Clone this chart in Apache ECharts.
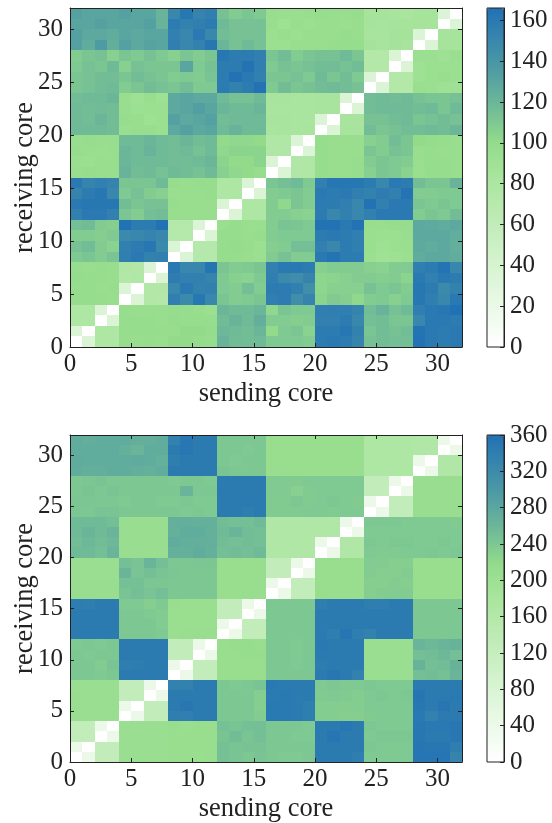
<!DOCTYPE html>
<html><head><meta charset="utf-8">
<style>html,body{margin:0;padding:0;background:#fff}#c{width:552px;height:823px}</style>
<script src="https://cdn.jsdelivr.net/npm/echarts@6/dist/echarts.min.js"></script>
</head><body><div id="c"></div>
<script>
const topScaleMax=166, bottomScaleMax=360;
const xTitle='sending core', yTitle='receiving core';
const colormap=['#ffffff','#eefaeb','#ddf5d8','#ccf0c5','#bbeab1','#a9e59e','#94dc8b','#72bd96','#54a0a2','#3a88ac','#2171b5'];
// rows: receiving core 0..31, columns: sending core 0..31
const topValues=[
[0,35,78,78,97,96,97,96,100,100,99,98,122,117,116,118,110,110,110,108,158,160,158,152,114,116,115,115,165,160,158,160],
[35,0,78,78,97,98,98,97,98,100,100,99,119,118,116,120,100,110,112,105,158,158,162,154,112,116,114,116,164,160,158,160],
[78,78,0,35,98,98,97,96,99,97,98,97,117,122,118,124,108,108,107,108,155,155,158,150,115,116,112,112,150,160,160,158],
[78,78,35,0,97,96,96,96,98,98,96,94,120,118,118,120,102,112,110,110,156,156,156,152,116,122,114,118,156,160,162,166],
[98,97,98,96,0,35,75,73,156,148,162,150,112,108,110,112,156,158,145,152,104,109,107,102,108,110,106,110,162,156,150,160],
[98,97,96,97,35,0,75,75,150,160,154,155,110,108,115,108,158,158,155,145,103,106,106,106,114,110,112,108,162,158,148,154],
[99,98,98,96,75,76,0,35,157,155,155,152,110,106,105,110,156,148,146,152,103,104,106,108,108,107,108,104,160,155,160,158],
[97,96,98,96,76,75,35,0,160,150,150,163,112,108,110,112,155,160,160,158,106,108,108,108,106,105,108,109,156,158,164,150],
[110,112,108,113,156,160,154,155,0,35,72,72,97,98,96,94,109,114,108,108,160,164,158,158,94,90,92,94,126,128,128,126],
[114,116,108,105,155,158,162,148,35,0,72,72,98,99,97,94,107,108,115,115,155,150,158,156,95,92,94,95,127,126,128,124],
[108,108,107,110,148,150,152,150,72,72,0,35,97,98,96,98,108,110,110,110,158,160,158,156,95,94,94,96,128,128,128,125],
[115,117,108,107,166,158,158,165,72,72,35,0,95,97,96,95,108,113,112,110,165,165,160,165,96,96,97,97,128,127,126,128],
[155,160,160,155,112,108,115,116,96,96,96,96,0,35,78,78,108,108,106,105,158,150,155,150,155,160,160,160,108,112,110,116],
[160,162,162,162,116,112,114,114,97,96,96,96,35,0,78,78,108,102,112,108,158,158,156,150,165,155,160,160,112,110,112,110],
[152,158,162,150,110,114,108,106,95,96,96,97,78,78,0,35,108,110,112,108,160,158,160,156,154,157,155,164,108,108,110,110],
[160,152,155,152,112,112,112,118,98,96,97,97,78,78,35,0,112,115,118,110,155,162,162,162,158,150,160,158,116,112,112,122],
[96,97,96,96,122,116,118,114,118,116,114,118,106,102,100,98,0,35,76,76,98,96,96,97,106,112,110,105,95,97,97,96],
[95,94,96,96,120,118,118,118,116,116,118,120,104,100,100,104,35,0,76,76,97,96,96,98,108,112,110,108,96,98,98,96],
[97,96,95,96,120,118,122,118,116,118,114,118,102,104,104,104,76,76,0,35,97,96,96,96,112,108,114,112,96,98,96,96],
[96,97,96,96,118,118,120,118,116,120,116,118,100,102,102,100,76,76,35,0,97,96,96,96,106,108,116,112,100,99,98,96],
[118,118,118,116,95,96,96,94,128,132,128,130,118,122,118,118,82,84,82,84,0,35,84,84,116,112,114,116,116,118,116,120],
[118,116,120,116,98,96,92,94,132,128,130,132,116,118,118,118,84,84,83,82,35,0,84,84,114,114,116,118,112,114,116,114],
[118,116,117,116,96,93,94,94,128,130,134,130,120,118,118,120,82,82,82,82,84,84,0,35,116,118,118,118,116,118,112,118],
[116,118,118,120,96,92,96,92,128,130,128,128,118,114,114,118,84,84,83,82,84,84,35,0,116,118,116,118,114,112,112,114],
[112,114,116,118,108,112,116,114,112,116,110,110,158,154,158,165,110,116,112,114,116,118,116,114,0,35,74,74,95,94,92,92],
[112,114,116,116,112,116,114,112,108,110,108,113,158,165,160,155,112,112,114,110,118,112,116,110,35,0,74,74,92,94,96,94],
[110,114,112,118,106,114,112,112,112,130,110,114,158,158,165,156,110,114,112,114,116,116,114,116,74,74,0,35,92,94,94,94],
[108,112,114,106,112,110,114,110,106,112,108,112,162,158,158,156,112,116,108,112,114,114,118,112,74,74,35,0,94,94,92,95],
[132,126,136,124,133,128,131,130,156,150,154,162,120,114,118,114,94,94,96,96,96,98,98,98,86,84,86,84,0,35,85,85],
[132,128,128,126,130,128,130,130,155,150,160,150,116,114,114,114,94,96,94,96,96,96,98,96,84,84,86,86,35,0,85,85],
[130,130,132,130,130,130,132,122,158,154,156,158,118,114,114,114,96,92,96,94,96,96,95,96,85,84,85,85,85,85,0,35],
[132,130,130,130,132,130,130,122,150,162,152,156,114,108,112,110,96,95,95,96,97,96,96,97,85,85,84,82,85,85,35,0]
];
const bottomValues=[
[0,40,130,130,205,205,205,205,208,208,206,210,248,245,240,245,240,238,238,240,345,345,345,340,238,238,238,238,352,352,352,330],
[40,0,130,130,205,205,205,205,208,208,208,208,248,244,246,246,240,240,240,240,345,345,345,345,240,238,238,238,352,350,350,340],
[130,130,0,40,205,205,205,205,208,210,208,208,244,252,244,250,240,240,238,238,345,352,345,345,238,240,240,240,350,345,345,350],
[130,130,40,0,205,205,205,205,208,206,208,210,248,244,248,250,240,240,240,238,345,345,350,345,240,238,238,238,350,348,348,350],
[205,205,205,205,0,40,130,130,340,338,345,345,240,240,240,235,348,348,345,340,234,234,232,232,236,238,238,238,348,335,345,345],
[205,205,205,205,40,0,130,130,345,350,345,345,240,240,240,232,348,348,345,340,234,234,234,234,238,238,238,238,350,345,352,345],
[208,205,205,205,130,130,0,40,345,345,345,345,240,240,240,232,346,348,345,345,236,238,236,234,238,240,238,240,352,345,345,348],
[205,205,205,205,130,130,40,0,335,335,345,345,240,238,240,245,348,345,345,345,238,240,238,238,240,238,238,238,345,345,345,345],
[240,240,238,240,345,345,345,345,0,40,130,130,210,210,210,210,240,240,240,240,345,350,345,335,205,205,205,205,250,252,248,262],
[240,240,235,245,340,342,345,345,40,0,130,130,210,210,210,210,240,240,238,240,342,345,345,345,205,205,205,205,265,250,252,265],
[240,238,240,240,345,345,345,345,130,130,0,40,210,210,212,212,240,240,238,240,345,345,345,345,205,205,205,205,250,252,258,250],
[238,240,238,240,345,345,345,345,130,130,40,0,210,212,212,210,240,240,238,240,348,345,345,345,205,205,205,205,262,258,262,265],
[345,345,345,345,240,240,240,238,205,208,208,208,0,40,130,130,240,240,240,240,345,340,352,340,335,345,345,345,240,240,240,240],
[345,345,345,345,240,240,240,235,206,206,206,206,40,0,130,130,240,240,240,240,345,345,345,345,345,345,345,345,240,240,240,240],
[345,345,345,345,240,240,238,235,206,206,206,206,130,130,0,40,240,240,240,240,345,345,345,345,345,345,345,345,240,240,240,240],
[342,340,345,345,238,238,232,238,208,206,206,206,130,130,40,0,240,240,240,240,340,345,345,345,340,340,345,345,240,240,240,240],
[207,207,207,207,245,250,245,250,240,240,240,240,208,208,208,208,0,40,130,130,210,210,210,210,232,235,235,235,208,208,208,208],
[207,207,207,207,248,248,242,242,240,240,240,240,208,208,208,208,40,0,130,130,208,208,208,208,232,232,235,232,208,208,208,208],
[205,205,205,205,262,245,250,245,242,240,240,240,208,208,208,208,130,130,0,40,208,208,208,208,235,232,232,235,208,208,208,208],
[205,205,205,205,250,245,262,250,240,240,242,242,208,208,208,208,130,130,40,0,208,208,208,208,235,235,232,232,208,208,208,208],
[255,255,250,262,207,207,207,207,268,268,272,268,250,252,250,255,165,165,165,165,0,40,165,165,238,236,236,238,238,240,238,240],
[252,258,252,258,207,207,207,207,272,270,270,270,252,250,252,250,165,165,165,165,40,0,165,165,240,238,240,240,238,238,240,238],
[255,262,255,262,207,207,207,207,268,272,272,268,255,262,252,250,165,165,165,165,165,165,0,40,238,238,238,238,238,238,238,238],
[255,255,255,250,207,207,207,207,270,270,268,268,252,250,250,255,165,165,165,165,165,165,40,0,240,240,240,238,238,238,238,236],
[242,240,245,245,240,240,240,240,240,238,240,238,345,345,340,345,236,236,236,238,238,236,238,238,0,40,130,130,207,207,207,207],
[242,242,240,240,238,240,240,238,238,240,238,238,345,345,345,345,236,236,240,236,238,240,238,236,40,0,130,130,207,207,207,207],
[240,244,240,244,240,240,240,240,240,262,240,240,345,345,345,345,236,236,230,236,238,238,238,238,130,130,0,40,207,207,207,207],
[240,242,244,240,240,240,240,240,238,240,240,238,345,345,345,345,238,236,236,238,238,238,238,238,130,130,40,0,207,207,207,207],
[272,270,270,272,272,270,268,272,345,345,345,345,244,240,240,240,208,208,208,208,210,208,208,208,170,170,170,170,0,40,165,165],
[274,272,272,272,272,274,272,268,340,345,345,345,240,238,240,240,208,208,208,208,208,208,208,208,170,170,170,170,40,0,165,165],
[272,272,272,272,268,262,272,272,345,350,345,345,240,240,238,240,208,208,208,208,208,208,208,208,170,170,170,170,165,165,0,40],
[272,270,272,272,272,270,270,272,335,350,345,345,240,240,240,240,208,208,208,208,208,208,208,208,170,170,170,170,165,165,40,0]
];

const serif='"Liberation Serif","DejaVu Serif",serif';
const ink='#222';
const panels=[
 {values:topValues,max:topScaleMax,top:8,bottom:476,barStep:20},
 {values:bottomValues,max:bottomScaleMax,top:435,bottom:61,barStep:40}
];
const plotLeft=70, plotRight=90, barLeft=487, barWidth=17;
const H=823;
const grid=[],xAxis=[],yAxis=[],series=[],visualMap=[];
function cellSeries(p,gi){
  const data=[];
  p.values.forEach((row,r)=>row.forEach((v,c)=>data.push([c,r,v])));
  return {type:'custom',xAxisIndex:gi,yAxisIndex:gi,clip:true,data,encode:{x:0,y:1},silent:true,z:2,
    renderItem(params,api){
      const a=api.coord([api.value(0),api.value(1)]);
      const b=api.coord([api.value(0)+1,api.value(1)+1]);
      const x0=Math.round(a[0]),x1=Math.round(b[0]),y0=Math.round(b[1]),y1=Math.round(a[1]);
      return {type:'rect',shape:{x:x0,y:y0,width:x1-x0,height:y1-y0},
        style:{fill:api.visual('color')}};
    }};
}
panels.forEach((p,i)=>{
  const gBase=grid.length;
  grid.push({left:plotLeft,right:plotRight,top:p.top,bottom:p.bottom,outerBoundsMode:'none',containLabel:false,z:3});
  const tick={show:true,inside:true,length:4,lineStyle:{color:ink,width:1}};
  const line={show:true,onZero:false,lineStyle:{color:ink,width:1}};
  const lab={show:true,fontFamily:serif,fontSize:25,color:ink,showMaxLabel:false};
  const nameStyle={fontFamily:serif,fontSize:26.5,color:ink};
  xAxis.push({type:'value',gridIndex:gBase,min:0,max:32,interval:5,position:'bottom',z:3,
    axisLine:line,axisTick:tick,axisLabel:{...lab,margin:5},splitLine:{show:false},
    name:xTitle,nameLocation:'middle',nameGap:34,nameMoveOverlap:false,nameTextStyle:nameStyle});
  yAxis.push({type:'value',gridIndex:gBase,min:0,max:32,interval:5,position:'left',z:3,
    axisLine:line,axisTick:tick,axisLabel:{...lab,margin:7},splitLine:{show:false},
    name:yTitle,nameLocation:'middle',nameGap:31,nameMoveOverlap:false,nameTextStyle:nameStyle});
  series.push(cellSeries(p,gBase));
  // mirror frame: top and right edges
  grid.push({left:plotLeft,right:plotRight,top:p.top,bottom:p.bottom,outerBoundsMode:'none',z:3});
  xAxis.push({type:'value',gridIndex:gBase+1,min:0,max:32,interval:5,position:'top',z:3,
    axisLine:line,axisTick:tick,axisLabel:{show:false},splitLine:{show:false}});
  yAxis.push({type:'value',gridIndex:gBase+1,min:0,max:32,interval:5,position:'right',z:3,
    axisLine:line,axisTick:tick,axisLabel:{show:false},splitLine:{show:false}});
  // colour bar axis
  grid.push({left:barLeft,width:barWidth,top:p.top,bottom:p.bottom,outerBoundsMode:'none',show:true,
    borderColor:ink,borderWidth:1,backgroundColor:'transparent',z:6});
  xAxis.push({type:'value',gridIndex:gBase+2,min:0,max:1,show:false});
  yAxis.push({type:'value',gridIndex:gBase+2,min:0,max:p.max,interval:p.barStep,position:'right',z:6,
    axisLine:{show:true,onZero:false,lineStyle:{color:ink,width:1}},
    axisTick:{show:true,inside:true,length:4,lineStyle:{color:ink}},
    axisLabel:{show:true,fontFamily:serif,fontSize:25,color:ink,margin:6,showMaxLabel:p.max%p.barStep===0},
    splitLine:{show:false}});
  visualMap.push({type:'continuous',seriesIndex:i,dimension:2,min:0,max:p.max,calculable:false,hoverLink:false,
    show:true,left:barLeft,top:p.top,itemWidth:barWidth,itemHeight:H-p.top-p.bottom,padding:0,text:null,
    showLabel:false,inRange:{color:colormap},textStyle:{color:'transparent',fontSize:1},z:4});
});
const chart=echarts.init(document.getElementById('c'),null,{renderer:'canvas'});
chart.setOption({animation:false,backgroundColor:'#fff',grid,xAxis,yAxis,visualMap,series});
</script></body></html>
